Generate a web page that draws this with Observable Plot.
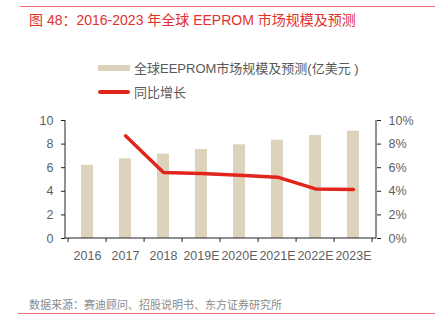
<!DOCTYPE html>
<html><head><meta charset="utf-8">
<script src="https://cdn.jsdelivr.net/npm/d3@7"></script>
<script src="https://cdn.jsdelivr.net/npm/@observablehq/plot@0.6"></script>
<style>
body{margin:0;background:#fff;}
#wrap{position:relative;width:445px;height:325px;font-family:"Liberation Sans","Noto Sans CJK SC",sans-serif;overflow:hidden;}
.topline{position:absolute;left:20px;top:6px;width:415px;height:0;border-top:1px solid #EE6F6B;}
.botline{position:absolute;left:18px;top:313px;width:417px;height:0;border-top:1px solid #EE6F6B;}
#title{position:absolute;left:29px;top:9px;font-size:14px;color:#E2312D;white-space:nowrap;}
#source{position:absolute;left:29px;top:296px;font-size:11px;color:#8a8a8a;white-space:nowrap;font-family:"Noto Sans CJK SC",sans-serif;}
.leg{position:absolute;left:98px;font-size:13px;color:#595959;white-space:nowrap;display:flex;align-items:center;}
.sw{display:inline-block;width:32px;margin-right:4px;}
#chart{position:absolute;left:0;top:105px;}
</style></head>
<body><div id="wrap">
<div class="topline"></div>
<div id="title">图 48：2016-2023 年全球 EEPROM 市场规模及预测</div>
<div class="leg" style="top:58px"><span class="sw" style="height:6px;background:#DDD3BD"></span>全球EEPROM市场规模及预测(亿美元 )</div>
<div class="leg" style="top:82px"><span class="sw" style="height:4px;background:#E1251B;border-radius:2px"></span>同比增长</div>
<div id="chart"></div>
<div id="source">数据来源：赛迪顾问、招股说明书、东方证券研究所</div>
<div class="botline"></div>
</div>
<script>
const years = ["2016","2017","2018","2019E","2020E","2021E","2022E","2023E"];
const marketSize = [6.2, 6.75, 7.15, 7.54, 7.94, 8.33, 8.73, 9.09];
const growthYears = ["2017","2018","2019E","2020E","2021E","2022E","2023E"];
const growthPct = [8.7, 5.6, 5.5, 5.35, 5.2, 4.2, 4.15];
const leftTicks = [0,2,4,6,8,10];
const rightTicks = [0,2,4,6,8,10];

const bars = years.map((y,i)=>({year:y, value:marketSize[i]}));
const growth = growthYears.map((y,i)=>({year:y, pct:growthPct[i]}));

const P = 0.68;
const axisCol = "#222";

function frameAndTicks(index, scales, values, dims) {
  const {x, y} = scales;
  const g = d3.create("svg:g").attr("stroke", axisCol).attr("stroke-width", 1).attr("fill","none");
  const step = x(years[1]) - x(years[0]);
  const bw = step * (1 - P);
  const y0 = y(0), y10 = y(10);
  const left = dims.marginLeft, right = dims.width - dims.marginRight;
  g.append("line").attr("x1", left).attr("x2", right).attr("y1", y0).attr("y2", y0);
  g.append("line").attr("x1", left).attr("x2", left).attr("y1", y0).attr("y2", y10);
  g.append("line").attr("x1", right).attr("x2", right).attr("y1", y0).attr("y2", y10);
  const bounds = years.map(c => x(c) + bw/2 - step/2);
  bounds.push(x(years[years.length-1]) + bw/2 + step/2);
  for (const b of bounds) g.append("line").attr("x1", b).attr("x2", b).attr("y1", y0).attr("y2", y0 + 4);
  return g.node();
}

const chart = Plot.plot({
  width: 445,
  height: 165,
  marginTop: 15,
  marginBottom: 32,
  marginLeft: 65,
  marginRight: 69,
  style: {fontFamily: "'Liberation Sans', Arial, sans-serif", fontSize: "12px", color: "#595959", background: "transparent"},
  x: {domain: years, paddingInner: P, paddingOuter: P/2, label: null},
  y: {domain: [0, 10], label: null},
  marks: [
    Plot.barY(bars, {x: "year", y: "value", fill: "#DDD3BD"}),
    Plot.lineY(growth, {x: "year", y: "pct", stroke: "#E1251B", strokeWidth: 3.5, strokeLinejoin: "round"}),
    Plot.axisX({tickSize: 0, tickPadding: 13, fontSize: 12.5, fill: "#5f5f5f"}),
    Plot.axisY({anchor: "left", ticks: leftTicks, tickSize: 4, tickPadding: 8, stroke: axisCol, fill: "#5f5f5f", fontSize: 12.5}),
    Plot.axisY({anchor: "right", ticks: rightTicks, tickSize: 4, tickPadding: 8, stroke: axisCol, fill: "#5f5f5f", fontSize: 12.5, tickFormat: d => d + "%"}),
    frameAndTicks
  ]
});
document.getElementById("chart").appendChild(chart);
</script>
</body></html>
